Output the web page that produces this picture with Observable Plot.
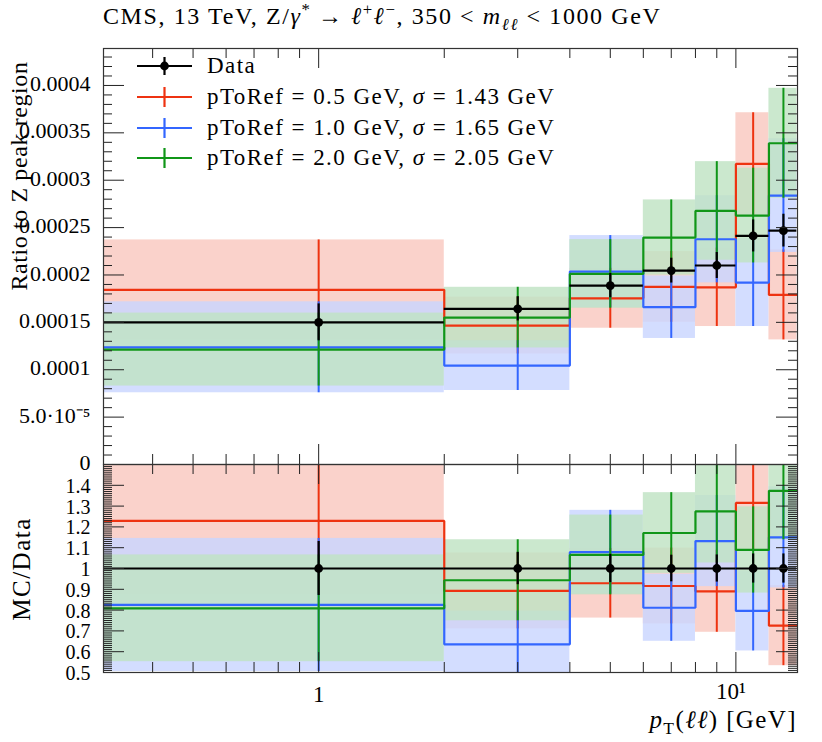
<!DOCTYPE html>
<html><head><meta charset="utf-8">
<script src="https://cdn.jsdelivr.net/npm/d3@7"></script>
<script src="https://cdn.jsdelivr.net/npm/@observablehq/plot@0.6"></script>
<style>
html,body{margin:0;padding:0;background:#fff;}
#wrap{position:relative;width:822px;height:742px;overflow:hidden;font-family:"Liberation Serif","Times New Roman",serif;color:#000;}
.abs{position:absolute;white-space:nowrap;}
.panel{position:absolute;left:0;}
sup,sub{font-size:70%;line-height:0;}
</style></head><body>
<div id="wrap"></div>
<script>
// ---------------- data ----------------
const binLo = [0, 2, 4, 6, 8, 10, 12];
const binHi = [2, 4, 6, 8, 10, 12, 14];

const dataVal = [1.500e-4, 1.643e-4, 1.888e-4, 2.046e-4, 2.100e-4, 2.412e-4, 2.468e-4];
const dataErr = [1.95e-5, 1.28e-5, 1.28e-5, 1.31e-5, 1.37e-5, 1.69e-5, 1.73e-5];

const redVal = [1.843e-4, 1.466e-4, 1.754e-4, 1.874e-4, 1.870e-4, 3.172e-4, 1.790e-4];
const redErr = [5.27e-5, 3.00e-5, 3.16e-5, 3.73e-5, 4.14e-5, 5.40e-5, 4.75e-5];

const blueVal = [1.237e-4, 1.044e-4, 2.036e-4, 1.660e-4, 2.377e-4, 1.920e-4, 2.838e-4];
const blueErr = [4.80e-5, 2.63e-5, 3.80e-5, 3.30e-5, 4.60e-5, 4.64e-5, 6.00e-5];

const greenVal = [1.213e-4, 1.550e-4, 2.011e-4, 2.395e-4, 2.676e-4, 2.627e-4, 3.390e-4];
const greenErr = [3.85e-5, 3.20e-5, 3.62e-5, 3.97e-5, 5.20e-5, 5.00e-5, 5.80e-5];

const legendLabels = [
  "Data",
  "pToRef = 0.5 GeV, <i>σ</i> = 1.43 GeV",
  "pToRef = 1.0 GeV, <i>σ</i> = 1.65 GeV",
  "pToRef = 2.0 GeV, <i>σ</i> = 2.05 GeV"
];
const legendColors = ["#000000", "#ee3311", "#3366ff", "#109618"];

const upperTickValues = [0, 5e-5, 1e-4, 1.5e-4, 2e-4, 2.5e-4, 3e-4, 3.5e-4, 4e-4];
const upperTickLabels = ["0", "5.0·10⁻⁵", "0.0001", "0.00015", "0.0002", "0.00025", "0.0003", "0.00035", "0.0004"];
const lowerTickValues = [0.5, 0.6, 0.7, 0.8, 0.9, 1.0, 1.1, 1.2, 1.3, 1.4];
const lowerTickLabels = ["0.5", "0.6", "0.7", "0.8", "0.9", "1", "1.1", "1.2", "1.3", "1.4"];
const xTickValues = [1, 10];
const xTickLabels = ["1", "10¹"];
const xMinorTicks = [0.4, 0.5, 0.6, 0.7, 0.8, 0.9, 2, 3, 4, 5, 6, 7, 8, 9];

// ---------------- layout ----------------
const W = 822, ML = 103, MR = 25;
const plotW = W - ML - MR;
const xDomain = [0.305, 14.05];
const FONT = '"Liberation Serif", "Times New Roman", serif';

const series = [
  {val: redVal, err: redErr, color: legendColors[1], pale: "#f9c8bf"},
  {val: blueVal, err: blueErr, color: legendColors[2], pale: "#c9d6ff"},
  {val: greenVal, err: greenErr, color: legendColors[3], pale: "#c0e3c3"}
];

function panel({height, mt, mb, yDomain, yMajor, yMinor, yTicks, yTickText, ratio, xAxis, labelSize, labelDy}) {
  const plotH = height - mt - mb;
  const n = i => ratio ? dataVal[i] : 1;
  const marks = [];
  for (const s of series) {
    const rows = binLo.map((lo, i) => ({x1: lo, x2: binHi[i], y1: (s.val[i] - s.err[i]) / n(i), y2: (s.val[i] + s.err[i]) / n(i)}));
    marks.push(Plot.rectY(rows, {x1: "x1", x2: "x2", y1: "y1", y2: "y2", fill: s.pale, fillOpacity: 0.82, clip: true}));
  }
  for (const s of series) {
    const pts = [];
    binLo.forEach((lo, i) => { pts.push({x: lo, y: s.val[i] / n(i)}); pts.push({x: binHi[i], y: s.val[i] / n(i)}); });
    const errs = binLo.map((lo, i) => ({x: (lo + binHi[i]) / 2, y1: (s.val[i] - s.err[i]) / n(i), y2: (s.val[i] + s.err[i]) / n(i)}));
    marks.push(Plot.ruleX(errs, {x: "x", y1: "y1", y2: "y2", stroke: s.color, strokeWidth: 2, clip: true}));
    marks.push(Plot.line(pts, {x: "x", y: "y", stroke: s.color, strokeWidth: 2.2, strokeLinejoin: "miter", clip: true}));
  }
  const drows = binLo.map((lo, i) => ({x1: lo, x2: binHi[i], x: (lo + binHi[i]) / 2,
    y: dataVal[i] / n(i), y1: (dataVal[i] - dataErr[i]) / n(i), y2: (dataVal[i] + dataErr[i]) / n(i)}));
  marks.push(Plot.ruleY(drows, {x1: "x1", x2: "x2", y: "y", stroke: "#000", strokeWidth: 2.2, clip: true}));
  marks.push(Plot.ruleX(drows, {x: "x", y1: "y1", y2: "y2", stroke: "#000", strokeWidth: 2.2, clip: true}));
  marks.push(Plot.dot(drows, {x: "x", y: "y", r: 4.4, fill: "#000", stroke: null}));
  const tk = {stroke: "#222", strokeWidth: 1};
  marks.push(Plot.ruleY(yMajor, {...tk, insetRight: plotW - 21}));
  marks.push(Plot.ruleY(yMajor, {...tk, insetLeft: plotW - 21}));
  marks.push(Plot.ruleY(yMinor, {...tk, insetRight: plotW - 9}));
  marks.push(Plot.ruleY(yMinor, {...tk, insetLeft: plotW - 9}));
  marks.push(Plot.ruleX(xTickValues, {...tk, insetTop: plotH - 20}));
  marks.push(Plot.ruleX(xTickValues, {...tk, insetBottom: plotH - 20}));
  marks.push(Plot.ruleX(xMinorTicks, {...tk, insetTop: plotH - 10}));
  marks.push(Plot.ruleX(xMinorTicks, {...tk, insetBottom: plotH - 10}));
  marks.push(Plot.frame({stroke: "#333", strokeWidth: 1.2}));
  // y tick labels
  marks.push(Plot.text(yTicks, {y: d => d, text: (d, i) => yTickText[i], frameAnchor: "left", textAnchor: "end",
    dx: -13, dy: labelDy, fontSize: labelSize, lineAnchor: "middle"}));
  // x tick labels
  if (xAxis) {
    marks.push(Plot.text(xTickValues, {filter: (d, i) => i === 0, x: d => d, text: (d, i) => xTickLabels[i], frameAnchor: "bottom",
      dy: 22, fontSize: 23, lineAnchor: "middle"}));
    marks.push(Plot.text(xTickValues, {filter: (d, i) => i === 1, x: d => d, text: (d, i) => xTickLabels[i], frameAnchor: "bottom",
      dy: 19, dx: -5, fontSize: 23, lineAnchor: "middle"}));
  }
  return Plot.plot({
    width: W, height, marginLeft: ML, marginRight: MR, marginTop: mt, marginBottom: mb,
    x: {type: "log", domain: xDomain, clamp: true, axis: null},
    y: {domain: yDomain, axis: null},
    style: {background: "transparent", overflow: "visible", fontFamily: FONT, fontSize: "23px", color: "#000"},
    marks
  });
}

const upperMinor = d3.range(0, 44).map(k => k * 1e-5).filter((v, k) => k % 5 !== 0);
const lowerMajor = d3.range(5, 16).map(k => k / 10);
const lowerMinor = d3.range(50, 151).filter(k => k % 10 !== 0).map(k => k / 100);

const upper = panel({height: 480, mt: 48, mb: 16, yDomain: [0, 4.39e-4], yMajor: upperTickValues,
  yMinor: upperMinor, yTicks: upperTickValues, yTickText: upperTickLabels, ratio: false, xAxis: false, labelSize: 22, labelDy: -1.5});
const lower = panel({height: 288, mt: 10, mb: 70, yDomain: [0.5, 1.5], yMajor: lowerMajor,
  yMinor: lowerMinor, yTicks: lowerTickValues, yTickText: lowerTickLabels, ratio: true, xAxis: true, labelSize: 20, labelDy: 1});

const wrap = document.getElementById("wrap");
lower.classList.add("panel"); lower.style.top = "454px";
upper.classList.add("panel"); upper.style.top = "0px";
wrap.appendChild(lower);
wrap.appendChild(upper);

function addText(html, css) {
  const d = document.createElement("div");
  d.className = "abs";
  d.innerHTML = html;
  Object.assign(d.style, css);
  wrap.appendChild(d);
  return d;
}
// title
addText('CMS, 13 TeV, Z/<i>γ</i><sup>*</sup>&thinsp;→ <i>ℓ</i><sup>+</sup><i>ℓ</i><sup>−</sup>, 350 &lt; <i>m</i><sub><i>ℓℓ</i></sub> &lt; 1000 GeV',
  {left: "103px", top: "3px", fontSize: "24px", letterSpacing: "1.6px"});
// y labels
addText("Ratio to Z peak region", {left: "19px", top: "176px", fontSize: "24px", letterSpacing: "0.6px", transform: "translate(-50%,-50%) rotate(-90deg)"});
addText("MC/Data", {left: "22px", top: "569px", fontSize: "25px", letterSpacing: "1.5px", transform: "translate(-50%,-50%) rotate(-90deg)"});
// x label
addText('<i>p</i><sub>T</sub>(<i>ℓℓ</i>) [GeV]', {right: "25px", top: "707px", fontSize: "25px", lineHeight: "26px", letterSpacing: "1.4px"});

// legend
const rowY = [66, 97, 128, 158];
legendLabels.forEach((lab, i) => {
  const c = legendColors[i];
  const sym = `<svg width="58" height="24" style="position:absolute;left:135px;top:${rowY[i] - 12}px;overflow:visible">
    <line x1="2" x2="57" y1="12" y2="12" stroke="${c}" stroke-width="2.2"/>
    <line x1="29.5" x2="29.5" y1="${i === 0 ? 3 : 2}" y2="${i === 0 ? 21 : 22}" stroke="${c}" stroke-width="2.2"/>
    ${i === 0 ? `<circle cx="29.5" cy="12" r="4.4" fill="#000"/>` : ""}
  </svg>`;
  const d = document.createElement("div");
  d.innerHTML = sym;
  wrap.appendChild(d.firstElementChild);
  addText(lab, {left: "207px", top: (rowY[i] - 14) + "px", fontSize: "23px", lineHeight: "28px", letterSpacing: "1.45px"});
});
</script>
</body></html>
